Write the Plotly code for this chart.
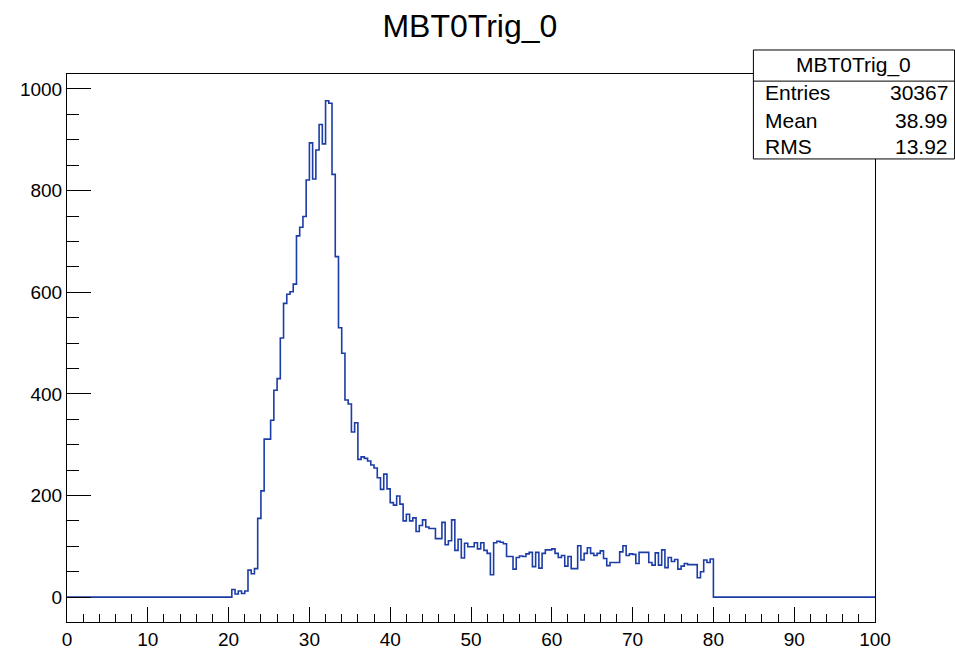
import plotly.graph_objects as go

# ---- data ----
hist_title = "MBT0Trig_0"
x_min, x_max = 0.0, 100.0
first_edge = 20.0
bin_width = 0.4
counts = [
    0, 15, 6, 12, 7, 12, 53, 46, 56, 155, 209, 311, 311, 348, 407, 430, 510, 578, 596, 601, 616,
    711, 728, 749, 821, 894, 823, 880, 930, 892, 977, 972, 832, 670, 530, 480,
    388, 380, 325, 343, 271, 276, 273, 268, 260, 254, 235, 212, 242, 213, 186, 181, 199, 183, 150,
    163, 150, 156, 129, 141, 152,
    138, 135, 135, 115, 115, 147, 103, 111, 152, 92, 114, 77, 106, 99, 99, 107, 95, 107, 92, 86,
    44, 107, 110, 108,
    105, 80, 80, 55, 78, 81, 80, 85, 88, 60, 88, 57, 86, 93, 93,
    95, 86, 78, 82, 61, 80, 56, 56, 101, 73, 86, 97, 86, 82, 86, 91, 76, 62, 68, 68,
    68, 89, 101, 82, 85, 84, 66, 88, 88, 88, 68, 63, 87, 63, 93, 58, 78, 70, 74, 55,
    61, 66, 64, 64, 64, 38, 50, 73, 68, 75,
]
stat_labels = ["Entries", "Mean", "RMS"]
stat_values = ["30367", "38.99", "13.92"]
x_ticks = [0, 10, 20, 30, 40, 50, 60, 70, 80, 90, 100]
y_ticks = [0, 200, 400, 600, 800, 1000]

# ---- build step outline ----
edges = [first_edge + bin_width * i for i in range(len(counts) + 1)]
xs = [x_min] + edges + [x_max]
ys = [0] + counts + [0, 0]

FONT = "Liberation Sans, Arial, Helvetica, sans-serif"
STAT_SIZE = 21

fig = go.Figure()
fig.add_trace(go.Scatter(
    x=xs, y=ys, mode="lines", line=dict(shape="hv", color="#1c3ca6", width=1.6),
    hoverinfo="skip", showlegend=False,
))

fig.update_layout(
    template="none",
    width=955, height=650,
    margin=dict(l=67, r=80, t=74, b=28, autoexpand=False),
    paper_bgcolor="white", plot_bgcolor="white",
    font=dict(family=FONT, color="black", size=19),
    title=dict(text=hist_title, x=0.492, xanchor="center", y=0.96, yanchor="middle",
               font=dict(family=FONT, size=32, color="black")),
    showlegend=False,
)
fig.update_xaxes(
    range=[x_min, x_max], tickvals=x_ticks, ticktext=[str(v) for v in x_ticks],
    ticks="inside", ticklen=15, tickwidth=1, tickcolor="black",
    minor=dict(dtick=2, tick0=0, ticks="inside", ticklen=8, tickwidth=1, tickcolor="black",
               showgrid=False),
    showline=True, linecolor="black", linewidth=1, mirror=True, automargin=False,
    showgrid=False, zeroline=False, tickfont=dict(size=19),
)
fig.update_yaxes(
    range=[-49, 1029.5], tickvals=y_ticks, ticktext=[str(v) for v in y_ticks],
    ticks="inside", ticklen=24, tickwidth=1, tickcolor="black",
    minor=dict(dtick=50, tick0=0, ticks="inside", ticklen=12, tickwidth=1, tickcolor="black",
               showgrid=False),
    showline=True, linecolor="black", linewidth=1, mirror=True, automargin=False,
    showgrid=False, zeroline=False, tickfont=dict(size=19),
)

# ---- stats box ----
bx0, bx1 = 0.8495, 1.0985
by0, by1, bsep = 0.845, 1.0438, 0.987
fig.add_shape(type="rect", xref="paper", yref="paper", x0=bx0, x1=bx1, y0=by0, y1=by1,
              line=dict(color="black", width=1), fillcolor="white", layer="above")
fig.add_shape(type="line", xref="paper", yref="paper", x0=bx0, x1=bx1, y0=bsep, y1=bsep,
              line=dict(color="black", width=1), layer="above")
fig.add_annotation(text=hist_title, xref="paper", yref="paper", x=(bx0 + bx1) / 2, y=1.0164,
                   xanchor="center", yanchor="middle", showarrow=False,
                   font=dict(family=FONT, size=STAT_SIZE, color="black"))
row_y = [0.967, 0.916, 0.867]
for lab, val, yy in zip(stat_labels, stat_values, row_y):
    fig.add_annotation(text=lab, xref="paper", yref="paper", x=0.861, y=yy,
                       xanchor="left", yanchor="middle", showarrow=False,
                       font=dict(family=FONT, size=STAT_SIZE, color="black"))
    fig.add_annotation(text=val, xref="paper", yref="paper", x=1.093, y=yy,
                       xanchor="right", yanchor="middle", showarrow=False,
                       font=dict(family=FONT, size=STAT_SIZE, color="black"))

fig.write_html("out.html", config={"displayModeBar": False},
               post_script="document.body.style.margin='0';")
